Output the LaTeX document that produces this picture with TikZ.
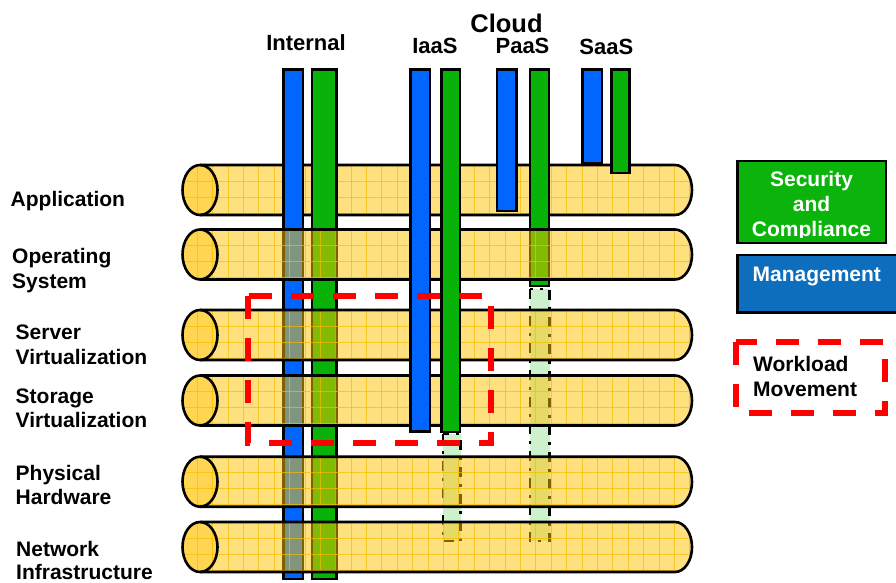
\documentclass[tikz,border=0pt]{standalone}
\usepackage{fontspec}
\setmainfont{Liberation Sans}
\definecolor{barblue}{RGB}{0,102,255}
\definecolor{bargreen}{RGB}{8,178,8}
\definecolor{cylgold}{RGB}{255,195,0}
\definecolor{gridgold}{RGB}{245,190,0}
\definecolor{ghostgreen}{RGB}{205,240,205}
\definecolor{mgmtblue}{RGB}{14,110,190}
\definecolor{secgreen}{RGB}{10,180,10}
\tikzset{
 outline/.style={draw=black, line width=2.6pt},
 gridline/.style={draw=gridgold, line width=0.8pt, draw opacity=0.7},
 bluebar/.style={fill=barblue, draw=black, line width=2.6pt},
 greenbar/.style={fill=bargreen, draw=black, line width=2.6pt},
 ghostbar/.style={fill=ghostgreen, draw=black, line width=2.4pt, dash pattern=on 10pt off 7pt on 3pt off 7pt},
 movebox/.style={draw=red, line width=6pt, dash pattern=on 23pt off 19pt},
 lefttext/.style={font=\fontsize{21}{25}\selectfont\bfseries, inner sep=0pt, anchor=base west},
 toptext/.style={font=\fontsize{22}{26}\selectfont\bfseries, inner sep=0pt, anchor=base},
 legtext/.style={font=\fontsize{21}{25}\selectfont\bfseries, inner sep=0pt, anchor=base},
 legbox/.style={draw=black, line width=2.4pt},
}
\newcommand{\drawcyl}[2]{%
  \pgfmathsetmacro{\ct}{#2-25}%
  \pgfmathsetmacro{\cb}{#2+25}%
  \pgfmathsetmacro{\cu}{#2-13.8}%
  \pgfmathsetmacro{\cd}{#2+13.8}%
  \coordinate (#1) at (200,#2);
  \fill[cylgold, fill opacity=0.5] (200,\ct) -- (675,\ct) .. controls (684.4,\ct) and (692,\cu) .. (692,#2) .. controls (692,\cd) and (684.4,\cb) .. (675,\cb) -- (200,\cb) .. controls (190.3,\cb) and (182.5,\cd) .. (182.5,#2) .. controls (182.5,\cu) and (190.3,\ct) .. (200,\ct) -- cycle;
  \fill[cylgold, fill opacity=0.35] (200,#2) ellipse [x radius=17.5, y radius=25];
  \begin{scope}
    \clip (200,\ct) -- (675,\ct) .. controls (684.4,\ct) and (692,\cu) .. (692,#2) .. controls (692,\cd) and (684.4,\cb) .. (675,\cb) -- (200,\cb) .. controls (190.3,\cb) and (182.5,\cd) .. (182.5,#2) .. controls (182.5,\cu) and (190.3,\ct) .. (200,\ct) -- cycle;
    \foreach \gx in {0,...,32} \draw[gridline] ({197.2+15.39*\gx},\ct) -- ({197.2+15.39*\gx},\cb);
    \foreach \gy in {16,32,48} \draw[gridline] (180,\ct+\gy) -- (695,\ct+\gy);
  \end{scope}
  \draw[outline] (200,\ct) -- (675,\ct) .. controls (684.4,\ct) and (692,\cu) .. (692,#2) .. controls (692,\cd) and (684.4,\cb) .. (675,\cb) -- (200,\cb);
  \draw[outline] (200,#2) ellipse [x radius=17.5, y radius=25];
}
\begin{document}
\begin{tikzpicture}[x=1pt,y=-1pt]
\useasboundingbox (0,0) rectangle (896,583);
\clip (0,0) rectangle (896,583);
\fill[white] (0,0) rectangle (896,583);

% layer 1: application cylinder
\drawcyl{app}{190}

% bars behind lower cylinders
\draw[bluebar]  (283.5,69.5) rectangle (303,579);
\draw[greenbar] (312,69.5) rectangle (336.5,579);
\draw[bluebar]  (497,69.5) rectangle (516.5,211);
\draw[greenbar] (530,69.5) rectangle (549,286);
\draw[bluebar]  (582.5,69.5) rectangle (602,163.5);
\draw[greenbar] (611.5,69.5) rectangle (629.5,173);
\draw[ghostbar] (443,434) rectangle (460.5,541);
\draw[ghostbar] (530,289) rectangle (549.5,541);

% lower cylinders
\drawcyl{os}{254.5}
\drawcyl{srv}{335}
\drawcyl{sto}{400.5}
\drawcyl{hw}{481.7}
\drawcyl{net}{547}

% IaaS bars in front
\draw[bluebar]  (410.5,69.5) rectangle (430,431.5);
\draw[greenbar] (441.5,69.5) rectangle (460,432);

% workload movement region
\draw[movebox] (248.3,296) -- (248.3,443.3) -- (490.7,443.3) -- (490.7,296) -- cycle;

% top labels
\node[font=\fontsize{25.5}{30}\selectfont\bfseries, inner sep=0pt, anchor=base] (cloud) at (506.5,32.3) {Cloud};
\node[toptext] (internal) at (306,51) {Internal};
\node[toptext] (iaas) at (435,53.3) {IaaS};
\node[toptext] (paas) at (522.5,54) {PaaS};
\node[toptext] (saas) at (606.3,55) {SaaS};

% left labels
\node[lefttext] (l1) at (10.5,206.7) {Application};
\node[lefttext] (l2a) at (12,263.5) {Operating};
\node[lefttext] (l2b) at (12,288) {System};
\node[lefttext] (l3a) at (15.5,339.8) {Server};
\node[lefttext] (l3b) at (15.5,364.3) {Virtualization};
\node[lefttext] (l4a) at (15.5,403) {Storage};
\node[lefttext] (l4b) at (15.5,427.5) {Virtualization};
\node[lefttext] (l5a) at (15.5,480.3) {Physical};
\node[lefttext] (l5b) at (15.5,504.8) {Hardware};
\node[lefttext] (l6a) at (16,556) {Network};
\node[lefttext] (l6b) at (16,579.5) {Infrastructure};

% legend
\draw[legbox, fill=secgreen] (737.5,161) rectangle (886,243);
\begin{scope}
  \clip (738,162) rectangle (885,237);
  \node[legtext, text=white] (sec1) at (811.5,186.7) {Security};
  \node[legtext, text=white] (sec2) at (811.5,211.7) {and};
  \node[legtext, text=white] (sec3) at (811.5,236.2) {Compliance};
\end{scope}
\draw[legbox, fill=mgmtblue] (737.5,255) rectangle (905,312.5);
\node[legtext, text=white] (mgmt) at (816.8,281.7) {Management};
\draw[movebox] (735.5,342) -- (735.5,413) -- (885,413) -- (885,342) -- cycle;
\node[lefttext] (wl1) at (753,371.7) {Workload};
\node[lefttext] (wl2) at (753,396.7) {Movement};
\end{tikzpicture}
\end{document}
